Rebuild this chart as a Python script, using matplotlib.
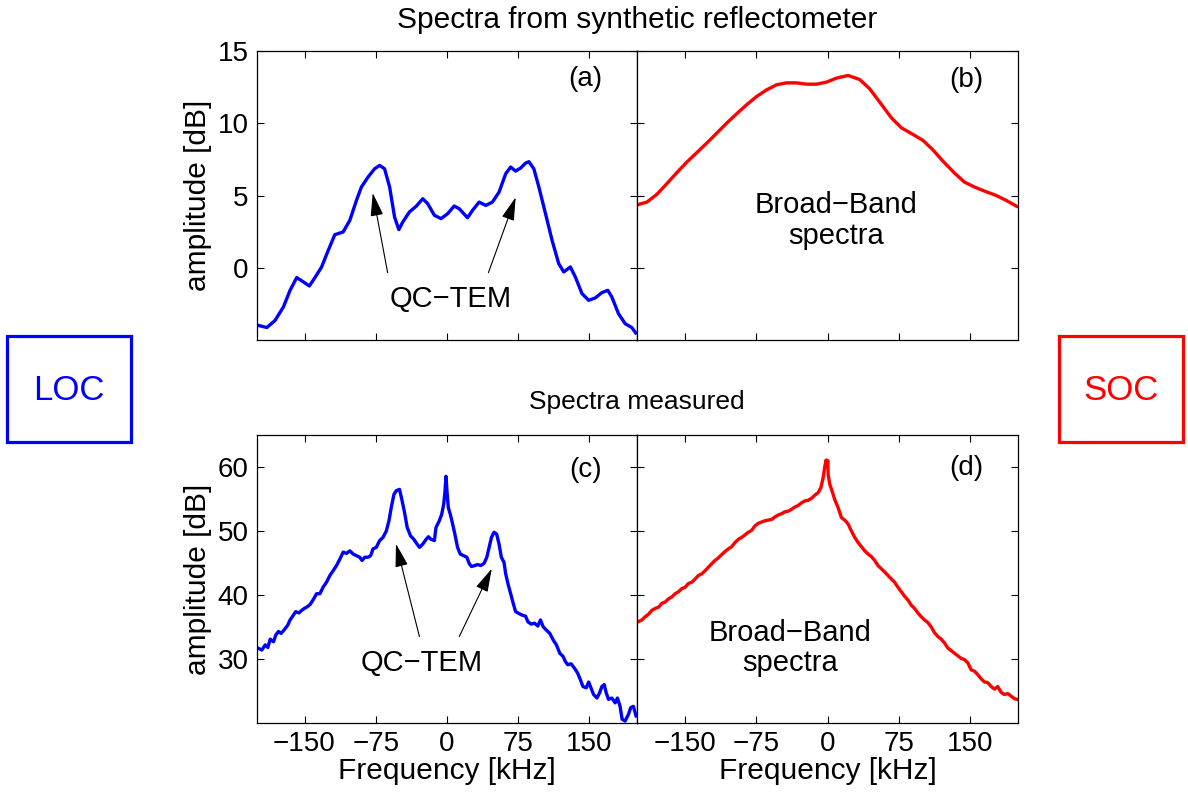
import numpy as np
import matplotlib
matplotlib.use("Agg")
from matplotlib import pyplot as plt
from matplotlib.patches import Rectangle

plt.rcParams['font.family'] = ['Liberation Sans', 'DejaVu Sans']
plt.rcParams['axes.unicode_minus'] = True

# (a) synthetic reflectometer, LOC
freq_a = [-199.4, -189.6, -180.9, -172.2, -165.2, -158.2, -151.2, -144.9, -139.0, -132.0,
          -125.0, -118.1, -109.3, -102.3, -95.3, -90.1, -83.1, -76.2, -70.9, -65.7,
          -60.4, -55.2, -50.7, -46.5, -39.5, -32.5, -25.5, -20.3, -13.3, -6.3,
          0.7, 7.6, 12.9, 21.6, 26.9, 33.8, 40.8, 47.8, 54.8, 61.8,
          67.0, 72.2, 77.5, 82.7, 86.2, 91.4, 96.7, 103.7, 110.6, 117.6,
          122.9, 129.9, 135.1, 142.1, 149.1, 156.0, 163.0, 169.3, 173.5, 180.5,
          187.5, 194.5, 198.6]
amp_a = [-3.93, -4.09, -3.59, -2.67, -1.52, -0.64, -0.94, -1.22, -0.64, 0.09,
         1.24, 2.32, 2.51, 3.31, 4.69, 5.61, 6.30, 6.87, 7.10, 6.87,
         5.61, 3.54, 2.67, 3.20, 3.89, 4.28, 4.80, 4.46, 3.66, 3.43,
         3.77, 4.30, 4.11, 3.49, 4.00, 4.57, 4.34, 4.57, 5.26, 6.53,
         6.99, 6.71, 6.92, 7.26, 7.36, 6.87, 5.61, 3.77, 1.93, 0.32,
         -0.25, 0.09, -0.60, -1.75, -2.21, -2.05, -1.68, -1.52, -1.98, -3.13,
         -3.82, -4.09, -4.46]

# (b) synthetic reflectometer, SOC
freq_b = [-199.4, -189.6, -179.2, -168.7, -158.2, -147.7, -137.3, -126.8, -116.3, -105.8,
          -95.3, -84.9, -74.4, -63.9, -53.5, -43.0, -32.5, -22.0, -11.6, -1.1,
          9.4, 21.6, 33.8, 44.3, 54.8, 67.0, 77.5, 89.7, 100.2, 110.6,
          121.1, 133.4, 143.8, 154.3, 164.8, 177.0, 187.5, 198.6]
amp_b = [4.39, 4.57, 5.10, 5.84, 6.60, 7.33, 7.98, 8.64, 9.33, 10.02,
         10.67, 11.29, 11.86, 12.32, 12.67, 12.80, 12.80, 12.71, 12.71, 12.85,
         13.13, 13.31, 13.03, 12.39, 11.47, 10.39, 9.70, 9.24, 8.83, 8.18,
         7.40, 6.57, 5.95, 5.61, 5.33, 5.03, 4.69, 4.28]

# (c) measured, LOC
freq_c = [-199.1, -194.9, -191.4, -188.6, -186.1, -182.6, -180.2, -177.4, -174.6, -171.1,
          -167.6, -165.2, -161.7, -159.3, -155.8, -153.0, -150.2, -147.7, -144.2, -140.7,
          -137.3, -133.8, -130.3, -126.8, -123.3, -119.8, -116.3, -112.8, -109.3, -105.8,
          -102.3, -98.8, -95.3, -91.9, -89.4, -86.6, -83.1, -80.3, -77.9, -74.4,
          -70.9, -67.4, -63.9, -61.1, -58.7, -55.9, -53.4, -50.0, -47.5, -44.7,
          -41.9, -38.4, -34.9, -31.5, -29.0, -25.5, -22.0, -19.6, -16.8, -13.3,
          -11.6, -8.1, -5.6, -3.5, -2.1, -1.1, 0.0, 1.4, 3.5, 5.9,
          8.3, 11.1, 13.9, 17.4, 20.9, 23.4, 25.8, 29.3, 32.1, 35.6,
          39.1, 41.9, 44.3, 46.8, 49.5, 52.3, 54.8, 57.2, 60.0, 61.8,
          64.2, 67.0, 69.8, 72.2, 75.7, 79.2, 82.7, 85.2, 88.7, 92.1,
          95.6, 98.4, 101.2, 104.7, 108.2, 111.7, 115.2, 118.7, 122.2, 124.6,
          127.1, 130.6, 134.0, 137.5, 140.3, 143.1, 146.6, 149.1, 151.5, 154.3,
          157.8, 160.6, 163.0, 165.5, 167.6, 170.0, 173.5, 177.0, 179.4, 182.2,
          184.3, 187.5, 191.0, 193.4, 196.2, 199.0]
amp_c = [31.7, 31.4, 32.2, 31.8, 33.1, 32.7, 33.75, 34.3, 34.0, 34.6,
         35.3, 36.1, 36.85, 37.4, 37.2, 37.6, 37.9, 38.1, 38.5, 39.3,
         40.2, 40.2, 41.25, 42.0, 43.05, 43.8, 44.6, 45.6, 46.7, 46.5,
         46.9, 46.4, 46.15, 45.9, 45.4, 45.9, 45.9, 46.15, 47.2, 47.45,
         48.5, 49.0, 50.0, 51.6, 53.65, 55.7, 56.3, 56.5, 54.9, 52.9,
         50.55, 49.25, 48.7, 47.95, 47.45, 47.95, 48.7, 49.1, 48.7, 48.5,
         50.55, 51.6, 52.6, 54.15, 56.2, 58.55, 56.2, 53.65, 52.6, 51.1,
         49.5, 47.45, 46.4, 46.15, 45.9, 44.9, 44.45, 44.6, 44.76, 44.6,
         44.96, 45.9, 47.45, 49.0, 49.8, 49.5, 47.95, 45.9, 45.1, 43.3,
         41.75, 40.2, 38.65, 37.4, 37.1, 36.85, 36.7, 35.8, 35.45, 35.6,
         35.15, 36.1, 35.04, 34.5, 34.0, 33.0, 32.2, 30.9, 30.4, 29.6,
         29.1, 29.25, 28.6, 27.8, 26.8, 25.7, 25.5, 26.4, 25.5, 24.45,
         23.9, 24.7, 25.7, 26.0, 24.7, 23.7, 23.9, 23.15, 23.9, 22.6,
         20.6, 20.3, 21.35, 22.4, 22.6, 21.1]

# (d) measured, SOC
freq_d = [-199.1, -194.9, -191.4, -187.9, -184.4, -180.9, -177.4, -173.9, -170.4, -166.9,
          -163.4, -160.0, -156.5, -153.0, -149.5, -146.0, -142.5, -139.0, -135.5, -132.0,
          -128.5, -125.0, -121.5, -118.1, -114.6, -111.1, -107.6, -104.1, -100.6, -97.1,
          -93.6, -90.1, -86.6, -83.1, -79.6, -76.2, -72.7, -69.2, -65.7, -62.2,
          -58.7, -55.2, -51.7, -48.2, -44.7, -41.2, -37.7, -34.2, -30.7, -27.3,
          -23.8, -20.3, -16.8, -13.3, -9.8, -7.0, -4.6, -2.8, -1.4, -0.3,
          0.3, 0.7, 2.4, 4.9, 7.6, 11.1, 14.6, 18.8, 21.6, 25.1,
          28.6, 32.1, 35.6, 39.1, 42.6, 46.1, 49.5, 53.0, 56.5, 60.0,
          63.5, 67.0, 70.5, 74.0, 77.5, 81.0, 84.5, 88.0, 91.4, 94.9,
          98.4, 101.9, 105.4, 108.9, 112.4, 115.9, 119.4, 122.9, 126.4, 129.9,
          133.3, 136.8, 140.3, 143.8, 147.3, 150.8, 154.3, 157.8, 161.3, 164.8,
          168.3, 171.8, 175.3, 178.7, 182.2, 185.7, 189.2, 192.7, 196.2, 199.0]
amp_d = [35.8, 36.1, 36.6, 37.0, 37.6, 37.9, 38.1, 38.7, 38.9, 39.4,
         39.7, 40.2, 40.5, 41.0, 41.2, 41.8, 42.0, 42.5, 43.05, 43.3,
         43.8, 44.35, 44.9, 45.4, 45.8, 46.3, 46.8, 47.2, 47.55, 48.2,
         48.7, 49.0, 49.4, 49.8, 50.1, 50.8, 51.2, 51.4, 51.6, 51.7,
         51.8, 52.2, 52.5, 52.7, 53.0, 53.1, 53.4, 53.75, 54.0, 54.4,
         54.7, 54.8, 55.1, 55.6, 56.0, 56.75, 58.3, 60.1, 61.1, 60.3,
         61.0, 58.8, 57.3, 56.2, 54.9, 53.65, 52.1, 51.6, 51.1, 50.0,
         49.0, 48.2, 47.55, 46.9, 46.4, 46.0, 45.4, 44.6, 44.1, 43.6,
         43.05, 42.5, 42.0, 41.2, 40.5, 39.8, 39.2, 38.4, 37.9, 37.2,
         36.6, 36.1, 35.7, 35.0, 34.1, 33.5, 33.1, 32.5, 31.7, 31.3,
         30.9, 30.5, 30.1, 29.9, 29.4, 28.3, 28.1, 27.55, 26.9, 26.4,
         26.3, 25.7, 25.3, 25.7, 24.8, 24.45, 24.6, 24.2, 23.8, 23.7]

xticks = [-150, -75, 0, 75, 150]
yticks_top = [0, 5, 10, 15]
yticks_bot = [30, 40, 50, 60]

fig = plt.figure(figsize=(11.88, 7.94), dpi=100)

W, H = 1188.0, 794.0
def place(x0, y0, x1, y1):
    return fig.add_axes([x0 / W, 1 - y1 / H, (x1 - x0) / W, (y1 - y0) / H])

ax_a = place(257, 51, 637, 340)
ax_b = place(637, 51, 1018, 340)
ax_c = place(257, 435, 637, 723)
ax_d = place(637, 435, 1018, 723)

ax_a.plot(freq_a, amp_a, color='#0000ff', lw=2.4)
ax_b.plot(freq_b, amp_b, color='#ff0000', lw=2.4)
ax_c.plot(freq_c, amp_c, color='#0000ff', lw=2.4)
ax_d.plot(freq_d, amp_d, color='#ff0000', lw=2.4)

for ax in (ax_a, ax_b, ax_c, ax_d):
    ax.set_xlim(-200, 200)
    ax.set_xticks(xticks)
    ax.tick_params(direction='in', top=True, right=True, length=5, width=0.8,
                   labelsize=20, pad=6)
    for s in ax.spines.values():
        s.set_linewidth(0.9)

for ax in (ax_a, ax_b):
    ax.set_ylim(-4.95, 15)
    ax.set_yticks(yticks_top)
    ax.tick_params(labelbottom=False)
for ax in (ax_c, ax_d):
    ax.set_ylim(20, 65)
    ax.set_yticks(yticks_bot)
    ax.set_xlabel('Frequency [kHz]', fontsize=21.5, labelpad=0)
for ax in (ax_b, ax_d):
    ax.tick_params(labelleft=False)

ax_a.set_ylabel('amplitude [dB]', fontsize=21.5, labelpad=4)
ax_c.set_ylabel('amplitude [dB]', fontsize=21.5, labelpad=4)

# panel letters
for ax, lab, y in ((ax_a, '(a)', 13.1), (ax_b, '(b)', 13.0), (ax_c, '(c)', 59.6), (ax_d, '(d)', 59.8)):
    ax.text(146, y, lab, fontsize=20, ha='center', va='center')

# arrows pointing at the QC-TEM peaks
arrow = dict(arrowstyle='-|>,head_length=0.8,head_width=0.22', color='k', lw=0.8,
             shrinkA=0, shrinkB=0, mutation_scale=18)
ax_a.annotate('', xy=(-78.2, 5.2), xytext=(-62.5, -0.3), arrowprops=arrow)
ax_a.annotate('', xy=(72.3, 4.9), xytext=(43.6, -0.3), arrowprops=arrow)
ax_a.text(4, -2.1, 'QC\u2212TEM', fontsize=21, ha='center', va='center')

ax_c.annotate('', xy=(-53.7, 48.0), xytext=(-29, 33.5), arrowprops=arrow)
ax_c.annotate('', xy=(47.1, 44.1), xytext=(12.9, 33.5), arrowprops=arrow)
ax_c.text(-27, 29.3, 'QC\u2212TEM', fontsize=21, ha='center', va='center')

ax_b.text(9.4, 3.3, 'Broad\u2212Band\nspectra', fontsize=21, ha='center', va='center',
          linespacing=1.1)
ax_d.text(-39.5, 31.7, 'Broad\u2212Band\nspectra', fontsize=21, ha='center', va='center',
          linespacing=1.1)

fig.text(637 / W, 1 - 20 / H, 'Spectra from synthetic reflectometer', fontsize=21.5,
         ha='center', va='center')
fig.text(637 / W, 1 - 402 / H, 'Spectra measured', fontsize=19, ha='center', va='center')

# LOC / SOC boxes at the sides
for x0, txt, col in ((7, 'LOC', '#0000ff'), (1059, 'SOC', '#ff0000')):
    fig.patches.append(Rectangle((x0 / W, 1 - 442 / H), 124 / W, 106 / H,
                                 transform=fig.transFigure, fill=False,
                                 edgecolor=col, lw=2.3))
    fig.text((x0 + 62) / W, 1 - 390 / H, txt, fontsize=25, color=col,
             ha='center', va='center')

fig.savefig('out.png', dpi=100)
